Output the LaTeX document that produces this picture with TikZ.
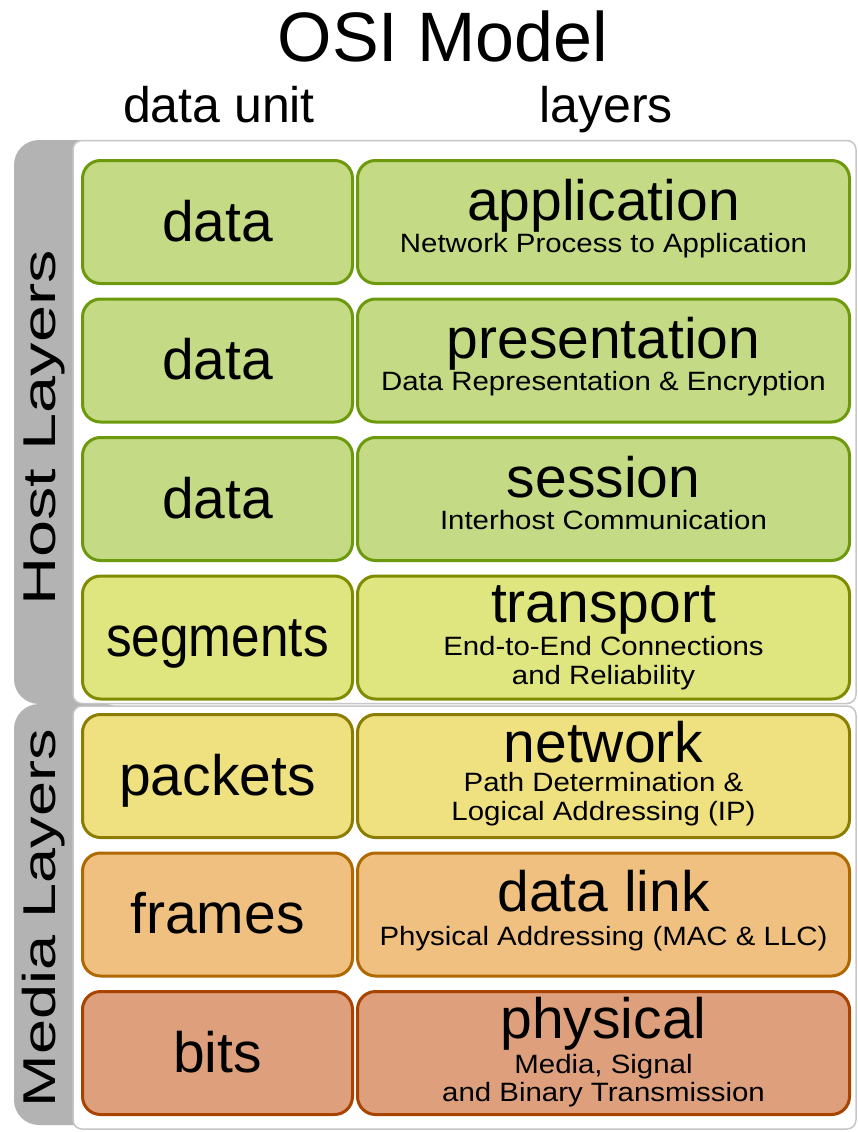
\documentclass[tikz,border=0pt]{standalone}
\usepackage{fontspec}
\setmainfont{Liberation Sans}
\newfontfamily\subfont[FakeStretch=1.11]{Liberation Sans}
\usetikzlibrary{calc}
\definecolor{bandgrey}{HTML}{B3B3B3}
\definecolor{panelgrey}{HTML}{C6C6C6}
\definecolor{appfill}{HTML}{C4DA85}
\definecolor{appline}{HTML}{6C9A0C}
\definecolor{trnfill}{HTML}{DFE57F}
\definecolor{trnline}{HTML}{808C00}
\definecolor{netfill}{HTML}{EFE080}
\definecolor{netline}{HTML}{8C7D00}
\definecolor{dllfill}{HTML}{EFC07F}
\definecolor{dllline}{HTML}{B06800}
\definecolor{phyfill}{HTML}{DD9F7C}
\definecolor{phyline}{HTML}{A84400}

\tikzset{
	osibox/.style 2 args={draw=#2, fill=#1, line width=3pt, rounded corners=18pt, minimum height=123pt, inner sep=0pt, outer sep=0pt},
	unit/.style={minimum width=270pt, text height=38pt, text depth=0pt, font=\fontsize{57}{60}\selectfont},
	layer/.style={minimum width=492pt},
	ltitle/.style={anchor=base, inner sep=0pt, font=\fontsize{57}{60}\selectfont},
	lsub/.style={anchor=base, inner sep=0pt, font=\subfont\fontsize{26.5}{28}\selectfont},
	head/.style={anchor=base, inner sep=0pt, font=\fontsize{50}{56}\selectfont},
	side/.style={anchor=base, rotate=90, inner sep=0pt, font=\fontsize{46}{50}\selectfont},
	panel/.style={draw=panelgrey, line width=1.5pt, fill=white, rounded corners=9pt}
}

\begin{document}
\begin{tikzpicture}[x=1pt, y=-1pt]
				\useasboundingbox (0,0) rectangle (857,1132);
				
				\fill[bandgrey, rounded corners=25pt] (14,140) rectangle (130,704);
				\fill[bandgrey, rounded corners=25pt] (14,704) rectangle (130,1125);
				\draw[panel] (73,140.5) rectangle (856,703.5);
				\draw[panel] (73,706) rectangle (856,1129);
				
				\node[side] (host) at (55,428) {\scalebox{1.45}[1]{Host Layers}};
				\node[side] (media) at (55,918) {\scalebox{1.37}[1]{Media Layers}};
				
				\node[head, font=\fontsize{70}{80}\selectfont] (title) at (443,62) {OSI Model};
				\node[head] (unithead) at (219,122) {data unit};
				\node[head] (layerhead) at (606,122) {layers};
				
				\node[osibox={appfill}{appline}, unit] (u1) at (217.5,222) {data};
				\node[osibox={appfill}{appline}, layer] (l1) at (603.5,222) {};
				\node[ltitle] (t1) at (603.5,220) {application};
				\node[lsub] (s1) at (603.5,252) {Network Process to Application};
				
				\node[osibox={appfill}{appline}, unit] (u2) at (217.5,360.5) {data};
				\node[osibox={appfill}{appline}, layer] (l2) at (603.5,360.5) {};
				\node[ltitle] (t2) at (603.5,358.5) {presentation};
				\node[lsub] (s2) at (603.5,390.5) {Data Representation \& Encryption};
				
				\node[osibox={appfill}{appline}, unit] (u3) at (217.5,499) {data};
				\node[osibox={appfill}{appline}, layer] (l3) at (603.5,499) {};
				\node[ltitle] (t3) at (603.5,497) {session};
				\node[lsub] (s3) at (603.5,529) {Interhost Communication};
				
				\node[osibox={trnfill}{trnline}, unit] (u4) at (217.5,637.5) {\scalebox{0.9}[1]{segments}};
				\node[osibox={trnfill}{trnline}, layer] (l4) at (603.5,637.5) {};
				\node[ltitle] (t4) at (603.5,622.5) {transport};
				\node[lsub] (s4) at (603.5,655) {End-to-End Connections};
				\node[lsub] (s4b) at (603.5,684) {and Reliability};
				
				\node[osibox={netfill}{netline}, unit] (u5) at (217.5,776) {packets};
				\node[osibox={netfill}{netline}, layer] (l5) at (603.5,776) {};
				\node[ltitle] (t5) at (603.5,762.5) {network};
				\node[lsub] (s5) at (603.5,791.5) {Path Determination \&};
				\node[lsub] (s5b) at (603.5,820.5) {Logical Addressing (IP)};
				
				\node[osibox={dllfill}{dllline}, unit] (u6) at (217.5,914.5) {frames};
				\node[osibox={dllfill}{dllline}, layer] (l6) at (603.5,914.5) {};
				\node[ltitle] (t6) at (603.5,911) {data link};
				\node[lsub] (s6) at (603.5,945) {Physical Addressing (MAC \& LLC)};
				
				\node[osibox={phyfill}{phyline}, unit] (u7) at (217.5,1053) {bits};
				\node[osibox={phyfill}{phyline}, layer] (l7) at (603.5,1053) {};
				\node[ltitle] (t7) at (603.5,1038) {physical};
				\node[lsub] (s7) at (603.5,1073) {Media, Signal};
				\node[lsub] (s7b) at (603.5,1101.5) {and Binary Transmission};
			\end{tikzpicture}
\end{document}
